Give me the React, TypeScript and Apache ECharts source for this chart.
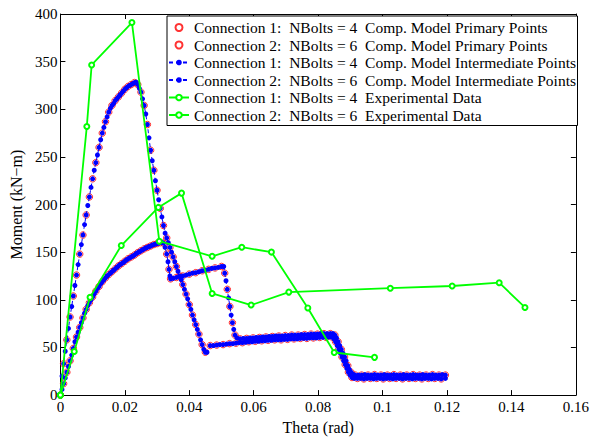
import React, { useEffect, useRef } from "react";
import * as echarts from "echarts";

// ---------- data ----------
const xTickValues = [0, 0.02, 0.04, 0.06, 0.08, 0.1, 0.12, 0.14, 0.16];
const yTickValues = [0, 50, 100, 150, 200, 250, 300, 350, 400];

const seriesNames = [
  "Connection 1:  NBolts = 4  Comp. Model Primary Points",
  "Connection 2:  NBolts = 6  Comp. Model Primary Points",
  "Connection 1:  NBolts = 4  Comp. Model Intermediate Points",
  "Connection 2:  NBolts = 6  Comp. Model Intermediate Points",
  "Connection 1:  NBolts = 4  Experimental Data",
  "Connection 2:  NBolts = 6  Experimental Data",
];

// Connection 1 (4 bolts) computational model, theta / moment
const conn1ModelTheta = [
  0, 0.0005, 0.001, 0.0015, 0.002, 0.0025, 0.003, 0.0035, 0.004, 0.0045, 0.005, 0.0055, 0.006, 0.0065, 0.007,
  0.0075, 0.008, 0.0085, 0.009, 0.0095, 0.01, 0.0105, 0.011, 0.0115, 0.012, 0.0125, 0.013, 0.0135, 0.014, 0.0145,
  0.015, 0.0155, 0.016, 0.0165, 0.017, 0.0175, 0.018, 0.0185, 0.019, 0.0195, 0.02, 0.0205, 0.021, 0.0215, 0.022,
  0.0225, 0.023, 0.0235, 0.024, 0.0245, 0.025, 0.0255, 0.026, 0.0265, 0.027, 0.0275, 0.028, 0.0285, 0.029, 0.0295,
  0.03, 0.0305, 0.031, 0.0315, 0.032,
  0.0325, 0.033, 0.0334, 0.0337, 0.034, 0.0342,
  0.035, 0.036, 0.037, 0.038, 0.039, 0.04, 0.041, 0.042, 0.043, 0.044, 0.045, 0.046, 0.047, 0.048, 0.049, 0.05, 0.0507,
  0.051, 0.0514, 0.0518, 0.0522, 0.0526, 0.053, 0.0534, 0.0538, 0.0542, 0.0548,
  0.0558, 0.0568, 0.0578, 0.0588, 0.0598, 0.0608, 0.0618, 0.0628, 0.0638, 0.0648, 0.0658, 0.0668, 0.0678, 0.0688,
  0.0698, 0.0708, 0.0718, 0.0728, 0.0738, 0.0748, 0.0758, 0.0768, 0.0778, 0.0788, 0.0798, 0.0808, 0.0818, 0.0828,
  0.0838, 0.0846,
  0.0852, 0.0857, 0.0862, 0.0867, 0.0872, 0.0877, 0.0882, 0.0887, 0.0892, 0.0897, 0.0902, 0.0908, 0.0915,
  0.0925, 0.0935, 0.0945, 0.0955, 0.0965, 0.0975, 0.0985, 0.0995, 0.1005, 0.1015, 0.1025, 0.1035, 0.1045, 0.1055,
  0.1065, 0.1075, 0.1085, 0.1095, 0.1105, 0.1115, 0.1125, 0.1135, 0.1145, 0.1155, 0.1165, 0.1175, 0.1185, 0.1195,
];
const conn1ModelMoment = [
  0, 6, 12, 18, 24, 30, 36, 42, 49, 56, 61, 66, 71, 76, 81,
  86, 90, 94, 97, 100, 103, 106, 109, 112, 114, 117, 119, 121, 123, 125,
  126.5, 128, 129.5, 131, 132.5, 134, 135.5, 137, 138, 139, 140.5, 142, 143, 144, 145,
  146, 147, 148.5, 149.5, 150.5, 151.5, 152.5, 153.5, 154.5, 155, 156, 156.5, 157.5, 158, 158.5,
  159, 159.5, 160, 160.3, 159.5,
  155, 148, 140, 132, 125, 122,
  122.5, 123.5, 124.5, 125, 126, 127, 128, 128.5, 129.5, 130.5, 131, 132, 133, 133.5, 134, 135, 135,
  128, 120, 111, 102, 93, 84, 76, 69, 63, 60,
  59, 59.5, 59.5, 60, 60, 60.5, 60.5, 61, 61, 61.5, 61.5, 62, 62, 62,
  62.5, 62.5, 63, 63, 63, 63.5, 63.5, 63.5, 64, 64, 64, 64.5, 64.5, 64.5,
  64.5, 64.5,
  63, 60, 56, 52, 48, 44, 40, 36, 31, 27, 24, 22, 21,
  21, 21, 21.5, 21, 21, 21.5, 21, 21, 21.5, 21, 21, 21.5, 21, 21,
  21.5, 21, 21, 21.5, 21, 21, 21.5, 21, 21, 21.5, 21, 21, 21.5, 21,
];

// Connection 2 (6 bolts) computational model, theta / moment
const conn2ModelTheta = [
  0, 0.0005, 0.001, 0.0015, 0.002, 0.0025, 0.003, 0.0035, 0.004, 0.0045, 0.005, 0.0055, 0.006, 0.0065, 0.007,
  0.0075, 0.008, 0.0085, 0.009, 0.0095, 0.01, 0.0105, 0.011, 0.0115, 0.012, 0.0125, 0.013, 0.0135, 0.014, 0.0145,
  0.015, 0.0155, 0.016, 0.0165, 0.017, 0.0175, 0.018, 0.0185, 0.019, 0.0195, 0.02, 0.0205, 0.021, 0.0215, 0.022,
  0.0225, 0.023, 0.0235,
  0.024, 0.0245, 0.025, 0.0255, 0.026, 0.0265, 0.027, 0.0275, 0.028, 0.0285, 0.029, 0.0295, 0.03, 0.0305, 0.031,
  0.0315, 0.032, 0.0325, 0.033, 0.0335, 0.034, 0.0345, 0.035, 0.0355, 0.036, 0.0365, 0.037, 0.0375, 0.038, 0.0385,
  0.039, 0.0395, 0.04, 0.0405, 0.041, 0.0415, 0.042, 0.0425, 0.043, 0.0435, 0.044, 0.0445, 0.045, 0.0455,
  0.0465, 0.0475, 0.0485, 0.0495, 0.0505, 0.0515, 0.0525, 0.0535, 0.0545, 0.0555, 0.0565, 0.0575, 0.0585, 0.0595,
  0.0605, 0.0615, 0.0625, 0.0635, 0.0645, 0.0655, 0.0665, 0.0675, 0.0685, 0.0695, 0.0705, 0.0715, 0.0725, 0.0735,
  0.0745, 0.0755, 0.0765, 0.0775, 0.0785, 0.0795, 0.0805, 0.0815, 0.0825, 0.0835, 0.0843,
  0.0849, 0.0854, 0.0859, 0.0864, 0.0869, 0.0874, 0.0879, 0.0884, 0.0889, 0.0894, 0.0899, 0.0905, 0.0912,
  0.0922, 0.0932, 0.0942, 0.0952, 0.0962, 0.0972, 0.0982, 0.0992, 0.1002, 0.1012, 0.1022, 0.1032, 0.1042, 0.1052,
  0.1062, 0.1072, 0.1082, 0.1092, 0.1102, 0.1112, 0.1122, 0.1132, 0.1142, 0.1152, 0.1162, 0.1172, 0.1182, 0.1195,
];
const conn2ModelMoment = [
  0, 20, 33, 46, 58, 70, 82, 93, 104, 115, 126, 137, 148, 158, 168,
  179, 189, 199, 208, 218, 227, 236, 244, 252, 260, 268, 275, 281, 287, 292,
  297, 301, 304, 306, 309, 311, 313, 315, 317, 319, 321, 322.5, 324, 325, 326,
  327, 328, 328.5,
  326, 322, 318, 311, 304, 295, 284, 270, 257, 246, 236, 225, 215, 205, 196,
  187, 178, 170, 165, 160, 155, 150, 145, 140, 135, 130, 125, 121, 116, 111,
  106, 101, 95, 90, 84, 79, 74, 69, 64, 58, 53, 48, 45, 45,
  52, 52, 52.5, 53, 53, 53.5, 54, 54, 54.5, 55, 55, 55.5, 56, 56,
  56.5, 56.5, 57, 57, 57.5, 57.5, 58, 58, 58, 58.5, 58.5, 59, 59, 59,
  59.5, 59.5, 59.5, 60, 60, 60, 60.5, 60.5, 60.5, 61, 61,
  59, 56, 52, 48, 44, 40, 36, 32, 28, 24, 21, 18.5, 17.5,
  17.5, 17.5, 17, 17.5, 17.5, 17, 17.5, 17.5, 17, 17.5, 17.5, 17, 17.5, 17.5,
  17, 17.5, 17.5, 17, 17.5, 17.5, 17, 17.5, 17.5, 17, 17.5, 17.5, 17, 17.5,
];

// Experimental data
const conn1ExpTheta = [0, 0.0043, 0.0092, 0.0189, 0.0304, 0.0376, 0.0471, 0.0592, 0.0709, 0.1024, 0.1216, 0.1362, 0.1442];
const conn1ExpMoment = [0, 45.7, 102.6, 157, 197, 212, 106.7, 94.5, 108.1, 112.2, 114.5, 118, 92];
const conn2ExpTheta = [0, 0.0082, 0.0097, 0.0222, 0.0307, 0.0471, 0.0563, 0.0655, 0.0768, 0.085, 0.0975];
const conn2ExpMoment = [0, 282, 346.5, 391, 161.5, 145.7, 155.2, 150.1, 91.5, 44.7, 39.6];

// ---------- helpers ----------
const zip = (xs: number[], ys: number[]) => xs.map((x, i) => [x, ys[i]]);
const everyOther = (pts: number[][]) => pts.filter((_, i) => i % 2 === 0);

const FONT = "'Liberation Serif', 'Times New Roman', 'DejaVu Serif', serif";
const RED = "#ff0000";
const BLUE = "#0000ff";
const GREEN = "#00ff00";

export default function App() {
  const ref = useRef<HTMLDivElement>(null);

  useEffect(() => {
    if (!ref.current) return;
    const chart = echarts.init(ref.current, undefined, { renderer: "svg" });

    const conn1Model = zip(conn1ModelTheta, conn1ModelMoment);
    const conn2Model = zip(conn2ModelTheta, conn2ModelMoment);

    const primary = (name: string, data: number[][]) => ({
      name,
      type: "scatter",
      data,
      symbol: "circle",
      symbolSize: 6.5,
      itemStyle: { color: "rgba(255,255,255,0)", borderColor: RED, borderWidth: 1 },
      z: 1,
    });
    const intermediate = (name: string, data: number[][]) => ({
      name,
      type: "line",
      data,
      symbol: "circle",
      symbolSize: 5,
      showSymbol: true,
      showAllSymbol: true,
      lineStyle: { color: BLUE, width: 1, type: [4, 3] },
      itemStyle: { color: BLUE },
      z: 2,
    });
    const experimental = (name: string, data: number[][]) => ({
      name,
      type: "line",
      data,
      symbol: "emptyCircle",
      symbolSize: 5,
      lineStyle: { color: GREEN, width: 1.8 },
      itemStyle: { color: GREEN, borderColor: GREEN, borderWidth: 1.5 },
      z: 3,
    });

    const axisCommon = {
      type: "value",
      axisLine: { show: true, onZero: false, lineStyle: { color: "#000", width: 1 } },
      axisTick: { show: true, inside: true, length: 5, lineStyle: { color: "#000" } },
      splitLine: { show: false },
    };
    const tickTxt = { fontFamily: FONT, fontSize: 15, color: "#000" };
    const nameTxt = { fontFamily: FONT, fontSize: 16, color: "#000" };

    chart.setOption({
      animation: false,
      backgroundColor: "#fff",
      textStyle: { fontFamily: FONT },
      grid: { left: 58, right: 12.5, top: 14, bottom: 32 },
      legend: {
        orient: "vertical",
        left: 167,
        top: 16,
        itemWidth: 20,
        itemHeight: 7,
        itemGap: 1.5,
        padding: [3.5, 1.5, 2.5, 1],
        borderColor: "#000",
        borderWidth: 1,
        backgroundColor: "#fff",
        textStyle: { fontFamily: FONT, fontSize: 15.5, color: "#000" },
        data: seriesNames,
        selectedMode: false,
      },
      xAxis: [
        {
          ...axisCommon,
          min: xTickValues[0],
          max: xTickValues[xTickValues.length - 1],
          interval: xTickValues[1] - xTickValues[0],
          position: "bottom",
          name: "Theta (rad)",
          nameLocation: "middle",
          nameGap: 17,
          nameTextStyle: nameTxt,
          axisLabel: {
            ...tickTxt,
            margin: 4,
            formatter: (v: number) => String(Number(v.toFixed(2))),
          },
        },
        {
          ...axisCommon,
          min: xTickValues[0],
          max: xTickValues[xTickValues.length - 1],
          interval: xTickValues[1] - xTickValues[0],
          position: "top",
          axisLabel: { show: false },
        },
      ],
      yAxis: [
        {
          ...axisCommon,
          min: yTickValues[0],
          max: yTickValues[yTickValues.length - 1],
          interval: yTickValues[1] - yTickValues[0],
          position: "left",
          name: "Moment (kN\u2212m)",
          nameLocation: "middle",
          nameGap: 26,
          nameTextStyle: nameTxt,
          axisLabel: { ...tickTxt, margin: 3 },
        },
        {
          ...axisCommon,
          min: yTickValues[0],
          max: yTickValues[yTickValues.length - 1],
          interval: yTickValues[1] - yTickValues[0],
          position: "right",
          axisLabel: { show: false },
        },
      ],
      series: [
        primary(seriesNames[0], everyOther(conn1Model)),
        primary(seriesNames[1], everyOther(conn2Model)),
        intermediate(seriesNames[2], conn1Model),
        intermediate(seriesNames[3], conn2Model),
        experimental(seriesNames[4], zip(conn1ExpTheta, conn1ExpMoment)),
        experimental(seriesNames[5], zip(conn2ExpTheta, conn2ExpMoment)),
      ],
    });

    return () => chart.dispose();
  }, []);

  return (
    <div
      ref={ref}
      style={{ position: "fixed", left: 0, top: 0, width: 592, height: 440, background: "#fff" }}
    />
  );
}
